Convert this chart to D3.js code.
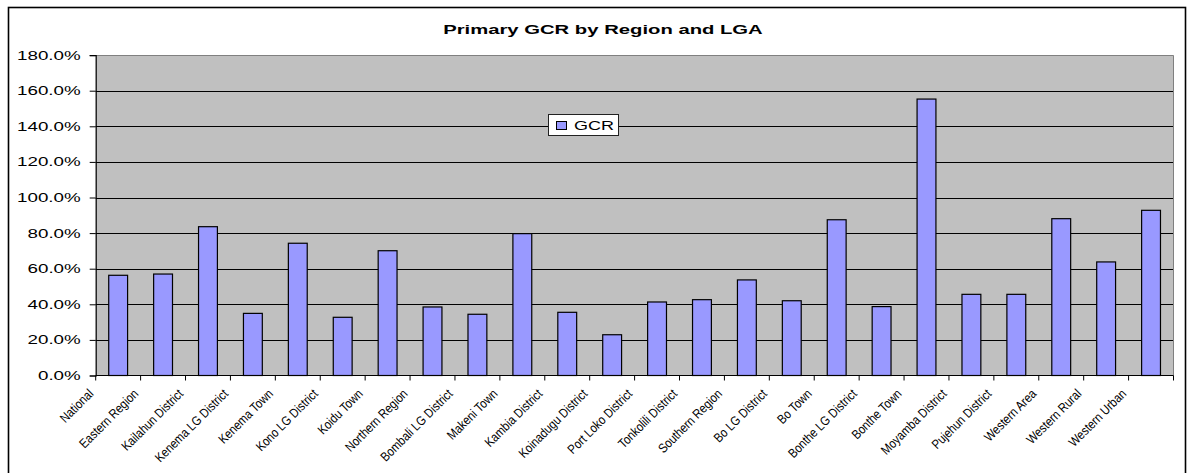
<!DOCTYPE html>
<html>
<head>
<meta charset="utf-8">
<script src="https://cdn.jsdelivr.net/npm/d3@7"></script>
<style>
  html, body { margin: 0; padding: 0; background: #ffffff; }
  svg { display: block; font-family: "Liberation Sans", Arial, sans-serif; }
</style>
</head>
<body>
<svg id="chart" width="1190" height="473"></svg>
<script>
// ---- data ----
const title = "Primary GCR by Region and LGA";
const seriesName = "GCR";
const categories = [
  "National", "Eastern Region", "Kailahun District", "Kenema LG District",
  "Kenema Town", "Kono LG District", "Koidu Town", "Northern Region",
  "Bombali LG District", "Makeni Town", "Kambia District", "Koinadugu District",
  "Port Loko District", "Tonkolili District", "Southern Region", "Bo LG District",
  "Bo Town", "Bonthe LG District", "Bonthe Town", "Moyamba District",
  "Pujehun District", "Western Area", "Western Rural", "Western Urban"
];
const gcrValues = [
  56.3, 57.0, 83.6, 34.9, 74.3, 32.7, 70.1, 38.5,
  34.4, 79.7, 35.5, 22.9, 41.3, 42.6, 53.7, 42.0,
  87.5, 38.7, 155.3, 45.6, 45.6, 88.1, 63.8, 92.8
];
const yTickValues = [0, 20, 40, 60, 80, 100, 120, 140, 160, 180];

// ---- layout ----
const svg = d3.select("#chart");
const plot = { left: 95.7, right: 1173.5, top: 55.1, bottom: 375.5 };
const stretch = 1.5; // horizontally widened text as in the reference

function widen(sel, factor) {
  sel.each(function () {
    const len = this.getComputedTextLength();
    d3.select(this).attr("textLength", len * factor).attr("lengthAdjust", "spacingAndGlyphs");
  });
}

// outer chart frame
svg.append("rect")
  .attr("x", 8.5).attr("y", 7.5)
  .attr("width", 1177).attr("height", 480)
  .attr("fill", "#ffffff")
  .attr("stroke", "#000").attr("stroke-width", 1.6);

const x = d3.scaleBand()
  .domain(categories)
  .range([plot.left, plot.right])
  .paddingInner(0.58)
  .paddingOuter(0.29);

const y = d3.scaleLinear().domain([0, 180]).range([plot.bottom, plot.top]);

// plot background
svg.append("rect")
  .attr("x", plot.left).attr("y", plot.top)
  .attr("width", plot.right - plot.left).attr("height", plot.bottom - plot.top)
  .attr("fill", "#c0c0c0");

// gridlines
svg.append("g")
  .selectAll("line")
  .data(yTickValues.filter(v => v > 0 && v < 180))
  .join("line")
  .attr("x1", plot.left).attr("x2", plot.right)
  .attr("y1", d => Math.round(y(d)) + 0.5).attr("y2", d => Math.round(y(d)) + 0.5)
  .attr("stroke", "#000").attr("stroke-width", 1);

// plot area top and right border (grey)
svg.append("path")
  .attr("d", `M${plot.left},${Math.round(plot.top) + 0.5}H${plot.right}V${plot.bottom}`)
  .attr("fill", "none").attr("stroke", "#808080").attr("stroke-width", 1);

// bars
svg.append("g")
  .selectAll("rect")
  .data(categories.map((c, i) => ({ c, v: gcrValues[i] })))
  .join("rect")
  .attr("x", d => x(d.c))
  .attr("y", d => y(d.v))
  .attr("width", x.bandwidth())
  .attr("height", d => y(0) - y(d.v))
  .attr("fill", "#9999ff")
  .attr("stroke", "#000").attr("stroke-width", 1.2);

// y axis
const yAxis = d3.axisLeft(y)
  .tickValues(yTickValues)
  .tickSize(6)
  .tickPadding(9)
  .tickFormat(d => d3.format(".1f")(d) + "%");
const yg = svg.append("g")
  .attr("transform", `translate(${plot.left},0)`)
  .call(yAxis);
yg.select(".domain").attr("stroke", "#000").attr("stroke-width", 1.2);
yg.selectAll(".tick line").attr("stroke", "#000");
yg.selectAll(".tick text")
  .attr("font-family", "Liberation Sans, Arial, sans-serif")
  .attr("font-size", 12.5)
  .attr("fill", "#000")
  .call(widen, stretch);

// x axis
const step = x.step();
const xAxisG = svg.append("g");
xAxisG.append("line")
  .attr("x1", plot.left).attr("x2", plot.right)
  .attr("y1", plot.bottom).attr("y2", plot.bottom)
  .attr("stroke", "#000").attr("stroke-width", 1.2);
const boundaries = categories.map(c => x(c) - x.paddingInner() * step / 2);
boundaries.push(plot.right);
xAxisG.selectAll("line.tick")
  .data(boundaries)
  .join("line")
  .attr("class", "tick")
  .attr("x1", d => d).attr("x2", d => d)
  .attr("y1", plot.bottom).attr("y2", plot.bottom + 5)
  .attr("stroke", "#000");

xAxisG.selectAll("text")
  .data(categories)
  .join("text")
  .attr("transform", d => `translate(${x(d) + x.bandwidth() / 2 - 24},${plot.bottom + 19}) rotate(-45)`)
  .attr("text-anchor", "end")
  .attr("font-size", 13)
  .attr("fill", "#000")
  .text(d => d)
  .call(widen, 0.86);

// title
svg.append("text")
  .attr("x", 603).attr("y", 34)
  .attr("text-anchor", "middle")
  .attr("font-size", 13.5)
  .attr("font-weight", "bold")
  .attr("fill", "#000")
  .text(title)
  .call(widen, stretch);

// legend
const lg = svg.append("g").attr("class", "legend");
lg.append("rect")
  .attr("x", 548.5).attr("y", 114.5)
  .attr("width", 70).attr("height", 21)
  .attr("fill", "#ffffff").attr("stroke", "#222").attr("stroke-width", 1);
lg.append("rect")
  .attr("x", 556.5).attr("y", 121.5)
  .attr("width", 10).attr("height", 8)
  .attr("fill", "#9999ff").attr("stroke", "#000").attr("stroke-width", 1);
lg.append("text")
  .attr("x", 574).attr("y", 130)
  .attr("font-size", 12)
  .attr("fill", "#000")
  .text(seriesName)
  .call(widen, stretch);
</script>
</body>
</html>
